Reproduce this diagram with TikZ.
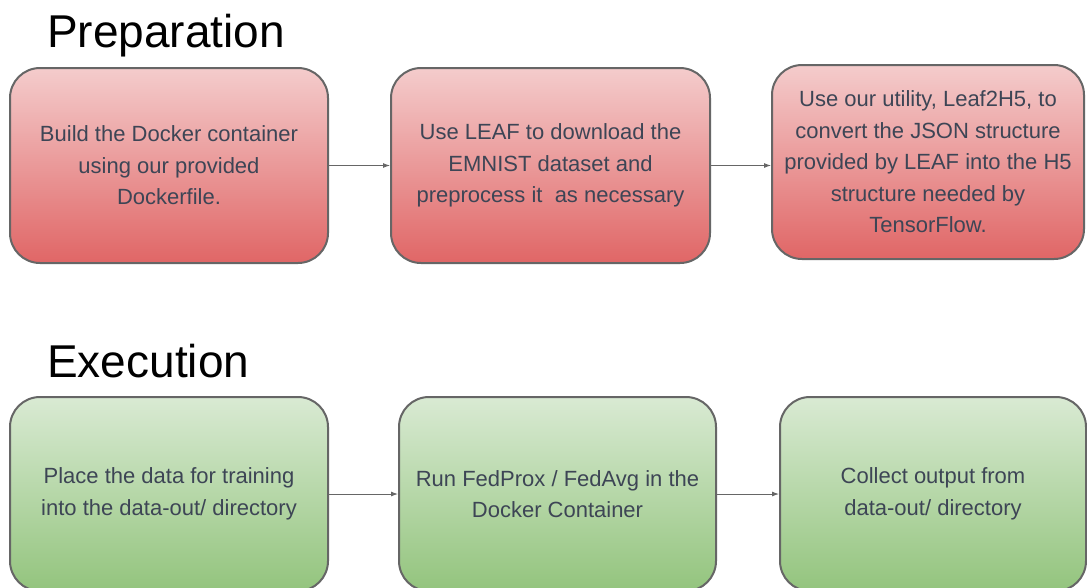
\documentclass[tikz,border=0pt]{standalone}
\usepackage{fontspec}
\setmainfont{Liberation Sans}
\usetikzlibrary{arrows.meta}
\definecolor{boxline}{HTML}{666666}
\definecolor{boxtext}{HTML}{3D4555}
\definecolor{redtop}{HTML}{F4CCCC}
\definecolor{redbot}{HTML}{E06666}
\definecolor{greentop}{HTML}{D9EAD3}
\definecolor{greenbot}{HTML}{93C47D}
\tikzset{
  stage/.style={draw=boxline, line width=2pt, rounded corners=30pt, align=center,
    text=boxtext, font=\fontsize{22}{31.5}\selectfont, inner sep=0pt},
  prepbox/.style={stage, top color=redtop, bottom color=redbot},
  execbox/.style={stage, top color=greentop, bottom color=greenbot},
  heading/.style={anchor=base west, inner sep=0pt, font=\fontsize{46}{52}\selectfont},
  flow/.style={draw=boxline, line width=0.9pt, -{Latex[length=7pt,width=5pt]}}
}
\begin{document}
\begin{tikzpicture}[x=1pt, y=-1pt]
		\useasboundingbox (0,0) rectangle (1087,587);
		\clip (0,0) rectangle (1087,587);
		\fill[white] (0,0) rectangle (1087,587);
		% preparation
		\node[heading] (prepTitle) at (47,47) {Preparation};
		\node[prepbox, minimum width=318pt, minimum height=195pt] (prepA) at (169,165.5)
			{Build the Docker container\\using our provided\\Dockerfile.};
		\node[prepbox, minimum width=319pt, minimum height=195pt] (prepB) at (550.5,165.5)
			{Use LEAF to download the\\EMNIST dataset and\\preprocess it\ \ as necessary};
		\node[prepbox, minimum width=312pt, minimum height=194pt] (prepC) at (928,162)
			{Use our utility, Leaf2H5, to\\convert the JSON structure\\provided by LEAF into the H5\\structure needed by\\TensorFlow.};
		\draw[flow] (prepA.east) -- (prepB.west);
		\draw[flow] (prepB.east) -- (prepB.east -| prepC.west);
		% execution
		\node[heading] (execTitle) at (47,377) {Execution};
		\node[execbox, minimum width=318pt, minimum height=194pt] (execA) at (169,494)
			{Place the data for training\\into the data-out/ directory};
		\node[execbox, minimum width=317pt, minimum height=194pt] (execB) at (557.5,494)
			{Run FedProx / FedAvg in the\\Docker Container};
		\node[execbox, minimum width=306pt, minimum height=194pt] (execC) at (933,494)
			{Collect output from\\data-out/ directory};
		\draw[flow] (execA.east) -- (execB.west);
		\draw[flow] (execB.east) -- (execC.west);
\end{tikzpicture}
\end{document}
